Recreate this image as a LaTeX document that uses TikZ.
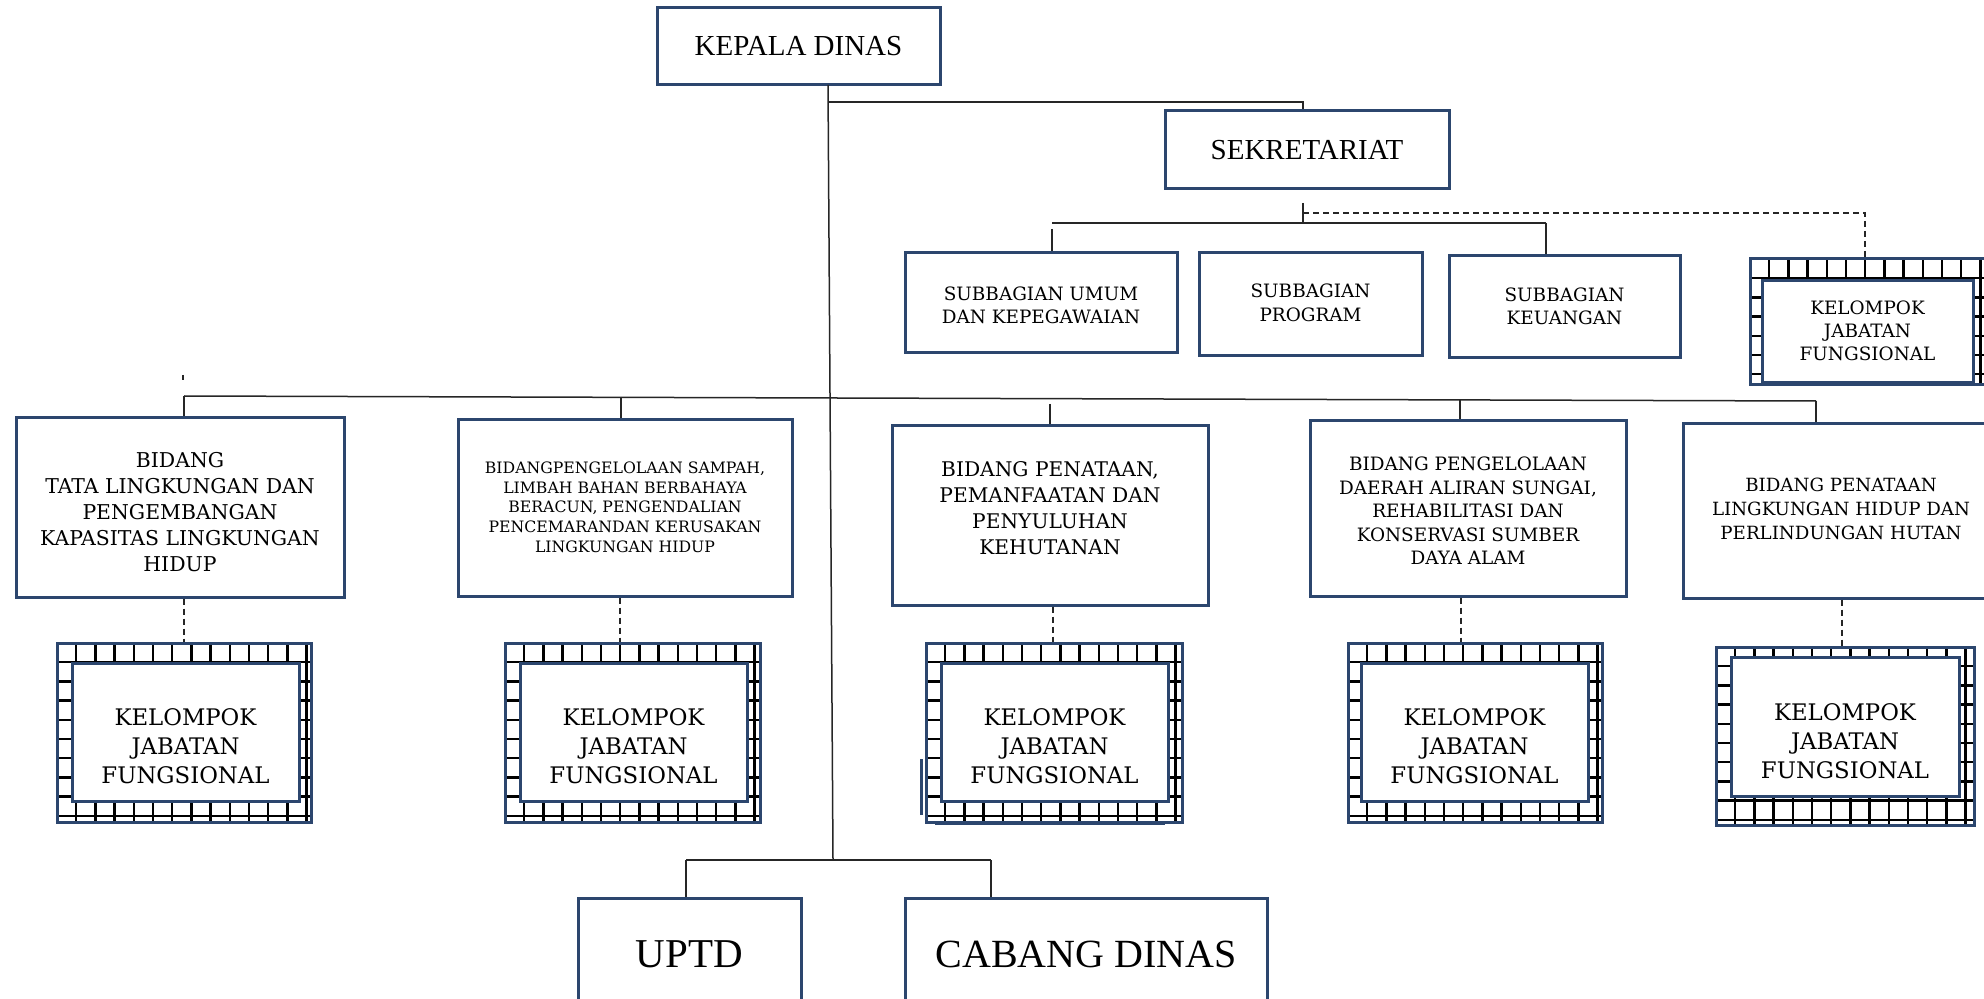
\documentclass[tikz,border=0pt]{standalone}
\usepackage{fontspec}
\setmainfont{Liberation Serif}
\newfontfamily\bk{DejaVu Serif}
\definecolor{navy}{RGB}{44,70,110}
% text block shifted down by #1 (pt), content #2
\newcommand{\shifttext}[2]{\raisebox{\dimexpr -#1pt - 0.25em\relax}[0pt][0pt]{\begin{tabular}{@{}c@{}}#2\end{tabular}}}
\newcommand{\boxnode}[7]{%
  \pgfmathsetmacro\myW{abs(#5-#3)*0.5}%
  \pgfmathsetmacro\myH{abs(#6-#4)*0.5}%
  \node[#1, minimum width=\myW pt, minimum height=\myH pt] (#2) at ({(#3+#5)/2},{(#4+#6)/2}) {#7};}
\newcommand{\kjf}[9]{%
  \begin{scope}
    \clip (#2,#3) rectangle (#4,#5);
    \fill[white] (#2,#3) rectangle (#4,#5);
    \foreach \i in {0,...,14}{\draw[gl] ({#2+\i*19.2},#3) -- ({#2+\i*19.2},#5);}
    \foreach \i in {0,...,10}{\draw[gl] (#2,{#3+\i*19.2}) -- (#4,{#3+\i*19.2});}
  \end{scope}
  \boxnode{bx, fill=none}{#1o}{#2}{#3}{#4}{#5}{}
  \boxnode{bx, font=\kfont}{#1}{#6}{#7}{#8}{#9}{\shifttext{\kshift}{KELOMPOK\\JABATAN\\FUNGSIONAL}}}
\begin{document}
\begin{tikzpicture}[x=0.5pt,y=-0.5pt,
  bx/.style={draw=navy, line width=1.5pt, fill=white, inner sep=0pt, align=center},
  conn/.style={line width=0.75pt, black!85},
  dconn/.style={conn, dash pattern=on 3pt off 2pt},
  gl/.style={line width=1.2pt, black}]
\useasboundingbox (0,0) rectangle (1984,999);
\clip (0,0) rectangle (1984,999);
\fill[white] (0,0) rectangle (1984,999);

% top level
\boxnode{bx, font=\fontsize{14.5}{17}\selectfont}{kd}{657}{8}{940}{85}{KEPALA DINAS}
\boxnode{bx, font=\fontsize{14.5}{17}\selectfont}{sek}{1165}{111}{1449}{189}{SEKRETARIAT}

% sub-bagian
\boxnode{bx, font=\bk\fontsize{9.2}{11.8}\selectfont}{sbu}{905}{253}{1177}{353}{\shifttext{2}{SUBBAGIAN UMUM\\DAN KEPEGAWAIAN}}
\boxnode{bx, font=\bk\fontsize{9.2}{11.8}\selectfont}{sbp}{1199}{253}{1422}{356}{\shifttext{0}{SUBBAGIAN\\PROGRAM}}
\boxnode{bx, font=\bk\fontsize{9.2}{11.8}\selectfont}{sbk}{1449}{256}{1680}{358}{\shifttext{0.5}{SUBBAGIAN\\KEUANGAN}}
\def\kfont{\bk\fontsize{9.2}{11.4}\selectfont}\def\kshift{0.5}
\kjf{k0}{1750}{259}{1995}{385}{1762}{281}{1973}{383}

% bidang
\boxnode{bx, font=\bk\fontsize{10.2}{13}\selectfont}{b1}{16}{418}{344}{597}{\shifttext{3.5}{BIDANG\\TATA LINGKUNGAN DAN\\PENGEMBANGAN\\KAPASITAS LINGKUNGAN\\HIDUP}}
\boxnode{bx, font=\bk\fontsize{7.85}{9.9}\selectfont}{b2}{458}{420}{792}{596}{\shifttext{0.5}{BIDANGPENGELOLAAN SAMPAH,\\LIMBAH BAHAN BERBAHAYA\\BERACUN, PENGENDALIAN\\PENCEMARANDAN KERUSAKAN\\LINGKUNGAN HIDUP}}
\boxnode{bx, font=\bk\fontsize{10.1}{13}\selectfont}{b3}{892}{426}{1208}{605}{\shifttext{-2.8}{BIDANG PENATAAN,\\PEMANFAATAN DAN\\PENYULUHAN\\KEHUTANAN}}
\boxnode{bx, font=\bk\fontsize{9.2}{11.7}\selectfont}{b4}{1310}{421}{1626}{596}{\shifttext{2.2}{BIDANG PENGELOLAAN\\DAERAH ALIRAN SUNGAI,\\REHABILITASI DAN\\KONSERVASI SUMBER\\DAYA ALAM}}
\boxnode{bx, font=\bk\fontsize{9.1}{12}\selectfont}{b5}{1683}{424}{1999}{598}{\shifttext{0}{BIDANG PENATAAN\\LINGKUNGAN HIDUP DAN\\PERLINDUNGAN HUTAN}}

% kelompok jabatan fungsional
\def\kfont{\bk\fontsize{11.4}{14.5}\selectfont}\def\kshift{8}
\kjf{k1}{57}{643}{311}{822}{72}{663}{299}{801}
\kjf{k2}{505}{643}{760}{822}{520}{663}{747}{801}
\kjf{k3}{926}{643}{1182}{822}{941}{663}{1168}{801}
\kjf{k4}{1348}{643}{1602}{822}{1361}{663}{1588}{801}
\def\kshift{8.5}
\kjf{k5}{1716}{647}{1974}{825}{1731}{657}{1959}{796}
\draw[navy, line width=1.5pt] (921,759) -- (921,815);
\draw[navy, line width=1.5pt] (935,823) -- (1165,823);

% bottom
\boxnode{bx, font=\fontsize{20.5}{24}\selectfont}{uptd}{578}{898}{801}{1010}{UPTD}
\boxnode{bx, font=\fontsize{20}{24}\selectfont}{cab}{905}{898}{1267}{1010}{CABANG DINAS}

% connectors
\coordinate (kdv) at (828,85);
\coordinate (kdh) at (828,102);
\coordinate (bot) at (833,860);
\draw[conn] (kdv) -- (bot);
\draw[conn] (kdh) -| (sek.north -| 1303,0);
\coordinate (sekd) at (1303,203);
\coordinate (subj) at (1303,223);
\draw[conn] (sekd) -- (subj);
\coordinate (subL) at (1052,223);
\coordinate (subR) at (1546,223);
\draw[conn] (subL) -- (subR);
\draw[conn] (1052,229) -- (sbu.north -| subL);
\draw[conn] (subR) -- (sbk.north -| subR);
\coordinate (dj) at (1303,213);
\draw[dconn] (dj) -| (k0o.north -| 1865,0);

% bidang bus
\coordinate (busL) at (184,396);
\coordinate (busR) at (1816,401);
\draw[conn] (busL) -- (busR);
\draw[conn] (183,375) -- (183,380);
\draw[conn] (busL) -- (b1.north -| busL);
\draw[conn] (621,397) -- (b2.north -| 621,0);
\draw[conn] (1050,404) -- (b3.north -| 1050,0);
\draw[conn] (1460,400) -- (b4.north -| 1460,0);
\draw[conn] (busR) -- (b5.north -| busR);

% dashed to kelompok
\draw[dconn] (b1.south -| 184,0) -- (k1o.north -| 184,0);
\draw[dconn] (b2.south -| 620,0) -- (k2o.north -| 620,0);
\draw[dconn] (b3.south -| 1053,0) -- (k3o.north -| 1053,0);
\draw[dconn] (b4.south -| 1461,0) -- (k4o.north -| 1461,0);
\draw[dconn] (b5.south -| 1842,0) -- (k5o.north -| 1842,0);

% bottom connectors
\coordinate (bl) at (686,860);
\coordinate (br) at (991,860);
\draw[conn] (bl) -- (br);
\draw[conn] (bl) -- (uptd.north -| bl);
\draw[conn] (br) -- (cab.north -| br);
\end{tikzpicture}
\end{document}
